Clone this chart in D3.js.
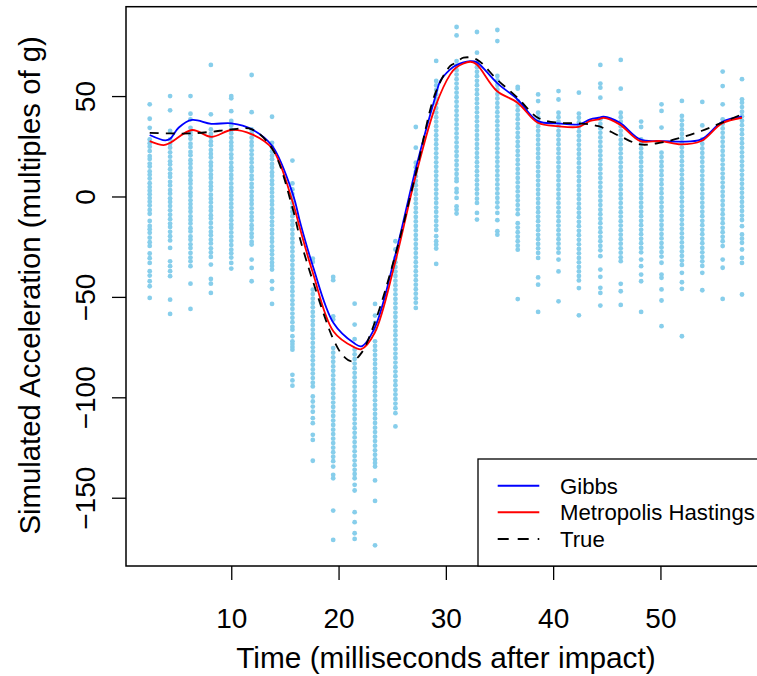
<!DOCTYPE html>
<html>
<head>
<meta charset="utf-8">
<script src="https://cdn.jsdelivr.net/npm/d3@7"></script>
<style>
  body { margin: 0; background: #fff; }
  svg { display: block; font-family: "Liberation Sans", Arial, Helvetica, sans-serif; }
</style>
</head>
<body>
<div id="chart"></div>
<script>
// time of each column of simulated draws (ms)
const times = [2.4, 4.3, 6.2, 8.1, 10.0, 11.9, 13.8, 15.7, 17.6, 19.5, 21.5, 23.4, 25.3, 27.2, 29.1,
  31.0, 32.9, 34.8, 36.7, 38.6, 40.5, 42.4, 44.4, 46.3, 48.2, 50.1, 52.0, 53.9, 55.8, 57.6]

// simulated accelerations per column
const draws = [
  [45.9, 38.7, 34.2, 28.4, 26.5, 24.8, 22.6, 20.1, 18.7, 16.4, 14.9, 12.5, 10.8, 8.9, 6.6, 4.7, 2.9, 1.1, -0.8, -2.6, -4.5, -6.7, -8.6, -12.2, -14.7, -16.3, -18.1, -20.5, -22.8, -24.6, -28.4, -30.7, -33.1, -37.2, -39.4, -42.2, -44.7, -50.5],
  [50.0, 42.9, 32.6, 28.4, 26.1, 24.3, 22.0, 19.8, 17.5, 15.9, 13.6, 11.4, 9.7, 7.3, 5.5, 3.2, 1.4, -0.9, -2.7, -4.8, -6.9, -9.1, -11.3, -13.5, -15.2, -17.6, -19.8, -21.9, -25.6, -32.3, -34.7, -37.2, -39.7, -51.4, -58.5],
  [50.0, 41.2, 38.4, 34.2, 32.1, 30.5, 28.7, 26.3, 24.6, 22.2, 20.5, 18.1, 16.3, 14.2, 12.0, 10.3, 8.1, 6.4, 4.2, 2.0, 0.3, -1.9, -3.8, -5.7, -7.6, -9.9, -11.7, -13.5, -15.8, -17.4, -19.9, -21.6, -23.8, -25.7, -28.1, -30.4, -32.3, -34.7, -43.4, -56.0],
  [65.5, 40.9, 33.4, 31.2, 29.6, 27.4, 25.5, 23.1, 21.2, 19.4, 17.0, 15.2, 13.1, 11.0, 9.2, 7.0, 5.1, 3.3, 0.9, -1.1, -3.0, -5.2, -7.1, -9.3, -11.0, -13.2, -15.5, -17.6, -19.3, -21.5, -23.4, -25.8, -27.9, -30.1, -33.9, -41.1, -43.4, -48.0],
  [50.0, 48.9, 42.5, 37.6, 35.3, 33.1, 31.4, 29.2, 27.0, 25.1, 23.3, 21.0, 19.1, 16.8, 14.6, 12.9, 10.7, 8.8, 6.5, 4.4, 2.6, 0.5, -1.5, -3.6, -5.5, -7.7, -9.6, -11.8, -13.9, -15.7, -17.9, -20.0, -22.1, -24.2, -26.5, -28.3, -30.4, -33.1, -35.9],
  [60.5, 42.0, 33.4, 31.5, 29.3, 27.1, 25.2, 23.0, 20.9, 18.8, 16.9, 14.6, 12.7, 10.4, 8.6, 6.3, 4.5, 2.3, 0.2, -1.8, -3.7, -5.9, -8.0, -10.1, -12.0, -14.3, -16.2, -18.4, -20.2, -22.5, -23.9, -31.4, -35.6, -42.2],
  [39.7, 26.7, 24.6, 22.4, 20.3, 18.5, 16.2, 14.3, 12.1, 10.2, 8.0, 6.1, 3.9, 2.0, -0.1, -2.2, -4.1, -6.3, -8.2, -10.4, -12.5, -14.4, -16.6, -18.5, -20.7, -22.6, -24.8, -26.9, -28.8, -31.0, -32.9, -34.6, -36.4, -42.2, -46.0, -53.5],
  [17.9, 6.5, 3.5, 1.2, -1.0, -3.2, -5.5, -7.6, -9.8, -12.1, -14.2, -16.5, -18.7, -20.9, -23.0, -25.3, -27.4, -29.7, -31.8, -34.1, -36.3, -38.4, -40.7, -42.8, -45.1, -47.2, -49.4, -51.7, -53.8, -56.0, -58.3, -60.4, -62.6, -64.9, -66.3, -69.6, -72.1, -73.5, -74.9, -76.3, -88.8, -91.6, -94.2],
  [-30.9, -32.6, -46.4, -48.6, -50.9, -53.1, -55.2, -57.5, -59.7, -61.9, -64.0, -66.3, -68.5, -70.6, -72.9, -75.1, -77.2, -79.5, -81.6, -83.8, -86.1, -88.2, -90.4, -92.7, -94.6, -99.6, -102.1, -104.6, -107.2, -110.4, -112.9, -118.7, -121.2, -131.6],
  [-40.1, -41.7, -59.7, -61.3, -75.5, -77.8, -80.1, -82.3, -84.6, -86.8, -89.1, -91.3, -93.6, -95.8, -98.1, -100.3, -102.6, -104.8, -107.1, -109.3, -111.6, -113.8, -116.1, -118.3, -120.6, -122.8, -125.1, -127.3, -129.6, -131.8, -134.5, -138.6, -140.3, -156.4, -171.0],
  [-53.4, -63.8, -71.0, -76.3, -78.6, -80.9, -83.2, -85.5, -87.8, -90.1, -92.4, -94.7, -97.0, -99.3, -101.6, -103.9, -106.2, -108.5, -110.8, -113.1, -115.4, -117.7, -120.0, -122.3, -124.6, -126.9, -129.2, -131.5, -133.8, -136.1, -138.2, -140.3, -143.6, -146.4, -157.2, -162.2, -167.7, -170.5],
  [-53.5, -59.3, -63.0, -66.0, -72.1, -74.4, -76.6, -78.9, -81.2, -83.4, -85.7, -87.9, -90.2, -92.5, -94.7, -97.0, -99.2, -101.5, -103.8, -106.0, -108.3, -110.5, -112.8, -115.1, -117.3, -119.6, -121.8, -124.1, -126.4, -128.6, -130.9, -132.7, -134.5, -141.4, -151.6, -173.7],
  [-22.3, -26.4, -30.6, -32.8, -35.1, -37.4, -39.6, -41.9, -44.2, -46.4, -48.7, -51.0, -53.2, -55.5, -57.8, -60.0, -62.3, -64.6, -66.8, -69.1, -71.4, -73.6, -75.9, -78.2, -80.4, -82.7, -85.0, -87.2, -89.5, -91.8, -94.0, -96.3, -98.6, -100.8, -103.1, -105.4, -107.9, -114.5],
  [34.6, 24.3, 16.8, 14.6, 12.3, 10.1, 7.8, 5.6, 3.3, 1.1, -1.2, -3.4, -5.7, -7.9, -10.2, -12.4, -14.7, -16.9, -19.2, -21.4, -23.7, -25.9, -28.2, -30.4, -32.7, -34.9, -37.2, -39.4, -41.7, -43.9, -46.2, -48.4, -50.7, -52.9, -55.5],
  [67.5, 57.5, 55.3, 53.0, 50.8, 48.5, 46.3, 44.0, 41.8, 39.5, 37.3, 35.0, 32.8, 30.5, 28.3, 26.0, 23.8, 21.5, 19.3, 17.0, 14.8, 12.5, 10.3, 8.0, 5.8, 3.5, 1.3, -1.0, -3.2, -5.5, -7.7, -10.0, -12.2, -14.5, -16.7, -19.8, -22.3, -24.0, -25.9, -33.6],
  [84.4, 80.2, 67.4, 65.2, 62.9, 60.7, 58.4, 56.2, 53.9, 51.7, 49.4, 47.2, 44.9, 42.7, 40.4, 38.2, 35.9, 33.7, 31.4, 29.2, 26.9, 24.7, 22.4, 20.2, 17.9, 15.7, 13.4, 11.2, 9.0, 7.6, 3.8, 2.1, -0.7, -4.9, -6.6, -8.5],
  [81.9, 71.6, 66.6, 64.4, 62.1, 59.9, 57.6, 55.4, 53.1, 50.9, 48.6, 46.4, 44.1, 41.9, 39.6, 37.4, 35.1, 32.9, 30.6, 28.4, 26.1, 23.9, 21.6, 19.4, 17.1, 14.9, 12.6, 10.4, 8.1, 5.9, 3.6, 1.4, -1.1, -3.2, -8.2, -11.5],
  [82.9, 77.4, 60.0, 57.8, 55.5, 53.3, 51.0, 48.8, 46.5, 44.3, 42.0, 39.8, 37.5, 35.3, 33.0, 30.8, 28.5, 26.3, 24.0, 21.8, 19.5, 17.3, 15.0, 12.8, 10.5, 8.3, 6.0, 3.8, 1.5, -0.7, -3.0, -5.4, -8.2, -11.8, -17.3, -19.0],
  [54.6, 53.7, 47.5, 45.2, 43.0, 40.7, 38.5, 36.2, 34.0, 31.7, 29.5, 27.2, 25.0, 22.7, 20.5, 18.2, 16.0, 13.7, 11.5, 9.2, 7.0, 4.7, 2.5, 0.2, -2.0, -4.3, -6.5, -8.8, -13.3, -15.5, -17.8, -20.0, -22.3, -24.5, -26.5, -51.1],
  [50.8, 47.5, 41.7, 39.4, 37.2, 34.9, 32.7, 30.4, 28.2, 25.9, 23.7, 21.4, 19.2, 16.9, 14.7, 12.4, 10.2, 7.9, 5.7, 3.4, 1.2, -1.1, -3.3, -5.6, -7.8, -10.1, -12.3, -14.6, -16.8, -19.1, -21.3, -23.6, -25.8, -28.1, -30.6, -40.3, -43.9, -57.5],
  [52.5, 48.3, 41.7, 39.5, 37.2, 35.0, 32.7, 30.5, 28.2, 26.0, 23.7, 21.5, 19.2, 17.0, 14.7, 12.5, 10.2, 8.0, 5.7, 3.5, 1.2, -1.0, -3.3, -5.5, -7.8, -10.0, -12.3, -14.5, -16.8, -19.0, -21.3, -23.5, -25.8, -28.0, -31.4, -37.3, -52.2],
  [51.7, 41.3, 39.2, 36.9, 34.7, 32.4, 30.2, 27.9, 25.7, 23.4, 21.2, 18.9, 16.7, 14.4, 12.2, 9.9, 7.7, 5.4, 3.2, 0.9, -1.3, -3.6, -5.8, -8.1, -10.3, -12.6, -14.8, -17.1, -19.3, -21.6, -23.8, -26.1, -28.3, -30.6, -32.8, -35.1, -37.3, -39.6, -41.8, -45.6, -59.2],
  [65.5, 56.2, 54.2, 49.2, 38.4, 36.2, 33.9, 31.7, 29.4, 27.2, 24.9, 22.7, 20.4, 18.2, 15.9, 13.7, 11.4, 9.2, 6.9, 4.7, 2.4, 0.2, -2.1, -4.3, -6.6, -8.8, -11.1, -13.3, -15.6, -17.8, -20.1, -22.3, -24.6, -26.8, -29.7, -36.4, -40.0, -45.5, -48.0, -54.3],
  [68.0, 53.7, 41.7, 39.5, 37.2, 35.0, 32.7, 30.5, 28.2, 26.0, 23.7, 21.5, 19.2, 17.0, 14.7, 12.5, 10.2, 8.0, 5.7, 3.5, 1.2, -1.0, -3.3, -5.5, -7.8, -10.0, -12.3, -14.5, -16.8, -19.0, -21.3, -23.5, -25.8, -28.0, -30.3, -32.2, -43.5, -47.2, -54.0],
  [37.3, 34.6, 28.4, 26.2, 23.9, 21.7, 19.4, 17.2, 14.9, 12.7, 10.4, 8.2, 5.9, 3.7, 1.4, -0.8, -3.1, -5.3, -7.6, -9.8, -12.1, -14.3, -16.6, -18.8, -21.1, -23.3, -25.6, -27.8, -31.4, -34.7, -38.9, -42.2, -57.5],
  [45.9, 42.6, 34.3, 21.8, 19.6, 17.3, 15.1, 12.8, 10.6, 8.3, 6.1, 3.8, 1.6, -0.7, -2.9, -5.2, -7.4, -9.7, -11.9, -14.2, -16.4, -18.7, -20.9, -23.2, -25.4, -27.7, -29.9, -33.0, -38.9, -40.5, -46.3, -51.8, -64.6],
  [47.6, 40.1, 37.9, 35.6, 33.4, 31.1, 28.9, 26.6, 24.4, 22.1, 19.9, 17.6, 15.4, 13.1, 10.9, 8.6, 6.4, 4.1, 1.9, -0.4, -2.6, -4.9, -7.1, -9.4, -11.6, -13.9, -16.1, -18.4, -20.6, -22.9, -25.1, -27.4, -29.6, -31.9, -34.1, -38.0, -42.7, -46.0, -69.6],
  [47.1, 35.4, 28.4, 26.2, 23.9, 21.7, 19.4, 17.2, 14.9, 12.7, 10.4, 8.2, 5.9, 3.7, 1.4, -0.8, -3.1, -5.3, -7.6, -9.8, -12.1, -14.3, -16.6, -18.8, -21.1, -23.3, -25.6, -27.8, -30.1, -32.3, -34.6, -38.0, -46.7],
  [62.2, 55.0, 45.9, 38.4, 36.2, 33.9, 31.7, 29.4, 27.2, 24.9, 22.7, 20.4, 18.2, 15.9, 13.7, 11.4, 9.2, 6.9, 4.7, 2.4, 0.2, -2.1, -4.3, -6.6, -8.8, -11.1, -13.3, -15.6, -17.8, -20.1, -22.3, -24.7, -31.4, -35.5, -51.0],
  [58.4, 48.4, 46.7, 44.5, 42.2, 40.0, 37.7, 35.5, 33.2, 31.0, 28.7, 26.5, 24.3, 22.0, 19.8, 17.5, 15.3, 13.0, 10.8, 8.5, 6.3, 4.0, 1.8, -0.5, -2.7, -5.0, -7.2, -9.5, -11.7, -14.8, -18.9, -21.0, -23.1, -26.4, -30.6, -33.1, -48.8]
]

// fitted curves
const gibbsX = [2.4, 3.85, 4.31, 5.09, 6.34, 8.14, 10.03, 11.93, 13.82, 15.75, 16.43, 17.61, 19.53, 21.44, 22.12, 23.36, 25.26, 27.18, 29.04, 29.48, 30.41, 30.94, 32.27, 32.86, 34.76, 36.68, 38.58, 40.48, 42.37, 43.46, 44.23, 44.7, 46.19, 48.12, 50.01, 51.91, 53.8, 55.73, 57.6]
const gibbsY = [30.6, 27.9, 28.7, 34.2, 38.1, 36.2, 36.4, 33.4, 25.1, 1.0, -13.1, -34.7, -63.0, -73.0, -74.6, -65.5, -29.8, 13.5, 50.0, 57.5, 63.3, 65.3, 67.4, 66.9, 56.6, 48.3, 37.5, 36.4, 35.9, 38.4, 39.2, 39.7, 36.8, 28.4, 27.6, 27.3, 28.4, 37.1, 39.7]

const mhX = [2.4, 3.69, 4.31, 6.34, 8.14, 10.03, 11.93, 13.82, 15.75, 16.43, 17.61, 19.53, 21.44, 22.12, 23.36, 25.26, 27.18, 29.04, 30.41, 30.94, 32.27, 32.86, 34.76, 36.68, 38.58, 40.48, 42.37, 43.46, 44.23, 44.7, 46.19, 48.12, 50.01, 51.91, 53.8, 55.73, 57.6]
const mhY = [27.6, 25.6, 26.7, 33.1, 29.7, 33.1, 30.9, 23.8, -3.2, -16.5, -38.1, -67.2, -75.0, -76.0, -68.0, -33.1, 10.1, 45.0, 60.8, 64.1, 67.1, 65.8, 52.5, 46.7, 36.7, 35.0, 34.7, 37.6, 38.4, 39.1, 35.9, 27.6, 27.6, 25.9, 27.6, 36.4, 39.2]

const trueX = [2.4, 4.31, 6.2, 8.14, 10.03, 11.93, 13.82, 15.75, 16.43, 17.61, 19.53, 20.47, 21.25, 22.12, 23.36, 25.26, 27.18, 29.04, 30.41, 30.94, 31.65, 32.86, 34.76, 36.68, 38.58, 40.48, 42.37, 44.23, 46.19, 48.12, 50.01, 51.91, 53.8, 55.73, 57.6]
const trueY = [31.7, 31.4, 31.4, 32.2, 33.4, 33.4, 23.8, -6.5, -21.4, -42.2, -71.3, -79.6, -82.1, -78.0, -63.0, -29.8, 11.0, 51.7, 65.0, 66.6, 69.1, 68.3, 58.3, 49.2, 39.2, 36.7, 36.4, 35.0, 30.1, 25.9, 26.8, 29.3, 32.6, 36.8, 40.9]

const xTicks = [10, 20, 30, 40, 50]
const yTicks = [-150, -100, -50, 0, 50]

const seriesNames = ['Gibbs', 'Metropolis Hastings', 'True']
const seriesColors = ['#0000ff', '#ff0000', '#000000']

const W = 757, H = 676
const PLOT = { left: 126, right: 765.7, top: 6.7, bottom: 566 }

const svg = d3.select('#chart').append('svg')
  .attr('width', W)
  .attr('height', H)

const x = d3.scaleLinear().domain([0.19, 59.81]).range([PLOT.left, PLOT.right])
const y = d3.scaleLinear().domain([-184, 94.5]).range([PLOT.bottom, PLOT.top])

const fmt = v => String(v).replace('-', '\u2212')

// points
const pts = []
draws.forEach((col, i) => col.forEach(v => pts.push({ t: times[i], a: v })))
svg.append('g').attr('class', 'points')
  .selectAll('circle').data(pts).enter().append('circle')
  .attr('cx', d => x(d.t))
  .attr('cy', d => y(d.a))
  .attr('r', 2.4)
  .attr('fill', '#87ceeb')

// curves
const line = d3.line()
  .x(d => x(d[0]))
  .y(d => y(d[1]))
  .curve(d3.curveCatmullRom.alpha(0.5))

const curves = [
  { xs: gibbsX, ys: gibbsY, color: seriesColors[0], dash: null },
  { xs: mhX, ys: mhY, color: seriesColors[1], dash: null },
  { xs: trueX, ys: trueY, color: seriesColors[2], dash: '9,7' }
]
curves.forEach(c => {
  svg.append('path')
    .datum(c.xs.map((t, i) => [t, c.ys[i]]))
    .attr('d', line)
    .attr('fill', 'none')
    .attr('stroke', c.color)
    .attr('stroke-width', 1.8)
    .attr('stroke-dasharray', c.dash)
})

// box
svg.append('rect')
  .attr('x', PLOT.left).attr('y', PLOT.top)
  .attr('width', PLOT.right - PLOT.left)
  .attr('height', PLOT.bottom - PLOT.top)
  .attr('fill', 'none')
  .attr('stroke', '#000')
  .attr('stroke-width', 1.5)

// axes
const gx = svg.append('g')
  .attr('transform', `translate(0,${PLOT.bottom})`)
  .call(d3.axisBottom(x).tickValues(xTicks).tickSize(14).tickPadding(10).tickFormat(fmt))
gx.select('.domain').remove()
gx.selectAll('line').attr('stroke-width', 1.3)
gx.selectAll('text').attr('font-size', 28).attr('fill', '#000')
  .attr('dy', null).attr('y', 62)

const gy = svg.append('g')
  .attr('transform', `translate(${PLOT.left},0)`)
  .call(d3.axisLeft(y).tickValues(yTicks).tickSize(14).tickFormat(fmt))
gy.select('.domain').remove()
gy.selectAll('line').attr('stroke-width', 1.3)
gy.selectAll('text')
  .attr('font-size', 28).attr('fill', '#000')
  .attr('x', null).attr('dy', null)
  .attr('text-anchor', 'middle')
  .attr('transform', 'translate(-31,0) rotate(-90)')

// axis titles
svg.append('text')
  .attr('x', 446).attr('y', 668)
  .attr('text-anchor', 'middle')
  .attr('font-size', 29.8)
  .text('Time (milliseconds after impact)')

svg.append('text')
  .attr('transform', `translate(40,${(PLOT.top + PLOT.bottom) / 2 - 1}) rotate(-90)`)
  .attr('text-anchor', 'middle')
  .attr('font-size', 29.3)
  .text('Simulated Acceleration (multiples of g)')

// legend (bottom right)
const lg = svg.append('g').attr('class', 'legend')
lg.append('rect')
  .attr('x', 478).attr('y', 459)
  .attr('width', PLOT.right - 478).attr('height', PLOT.bottom - 459)
  .attr('fill', '#fff').attr('stroke', '#000').attr('stroke-width', 1.3)

seriesNames.forEach((name, i) => {
  const ly = 485.7 + i * 26.65
  lg.append('line')
    .attr('x1', 497.7).attr('x2', 539.3)
    .attr('y1', ly).attr('y2', ly)
    .attr('stroke', seriesColors[i])
    .attr('stroke-width', 2)
    .attr('stroke-dasharray', i === 2 ? '11,9' : null)
  lg.append('text')
    .attr('x', 560).attr('y', ly + 8)
    .attr('font-size', 22.2)
    .text(name)
})
</script>
</body>
</html>
